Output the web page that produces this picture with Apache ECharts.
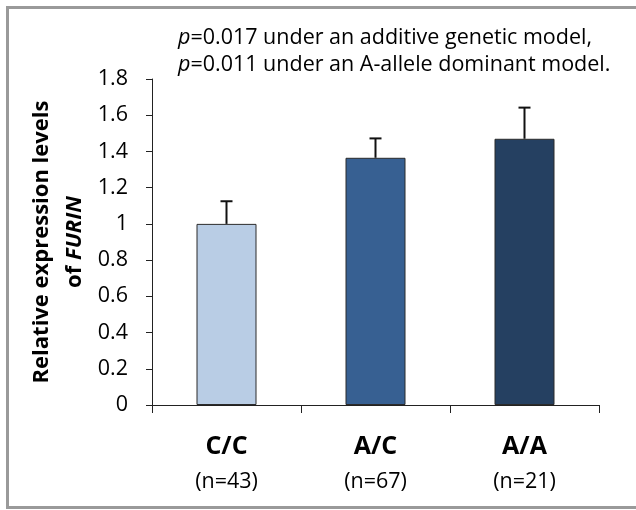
<!DOCTYPE html>
<html>
<head>
<meta charset="utf-8">
<script src="https://cdn.jsdelivr.net/npm/echarts@6/dist/echarts.min.js"></script>
<style>html,body{margin:0;padding:0;background:#fff}#c{width:636px;height:510px}</style>
</head>
<body>
<div id="c"></div>
<script>
var categories = ['C/C', 'A/C', 'A/A'];
var sampleSizes = ['(n=43)', '(n=67)', '(n=21)'];
var means = [1.0, 1.365, 1.47];
var upperErrors = [1.125, 1.472, 1.642];
var barColors = ['#B9CDE5', '#376092', '#254061'];
var yTicks = [0, 0.2, 0.4, 0.6, 0.8, 1, 1.2, 1.4, 1.6, 1.8];

var FONT = '"Open Sans", "Noto Sans", sans-serif';
var chart = echarts.init(document.getElementById('c'), null, {renderer: 'canvas'});

var option = {
  backgroundColor: '#ffffff',
  animation: false,
  graphic: [{
    type: 'rect',
    shape: {x: 7.5, y: 7.5, width: 660, height: 500},
    style: {fill: 'none', stroke: '#9a9a9a', lineWidth: 3},
    silent: true
  }],
  title: {
    text: '{i|p}=0.017 under an additive genetic model,\n{i|p}=0.011 under an A-allele dominant model.',
    left: 178,
    top: 24,
    padding: 0,
    textStyle: {
      fontFamily: FONT, fontSize: 21.5, fontWeight: 'normal', color: '#000', lineHeight: 27,
      rich: {i: {fontFamily: FONT, fontSize: 21.5, fontStyle: 'italic', color: '#000', lineHeight: 27}}
    }
  },
  grid: {left: 152, top: 79, right: 37, bottom: 105, containLabel: false, outerBoundsMode: 'none'},
  xAxis: {
    type: 'category',
    data: categories,
    axisLine: {lineStyle: {color: '#222', width: 1}},
    axisTick: {show: true, length: 8, lineStyle: {color: '#222'}},
    axisLabel: {
      margin: 24,
      formatter: function (v, i) { return '{b|' + v + '}\n{n|' + sampleSizes[i] + '}'; },
      rich: {
        b: {fontFamily: FONT, fontSize: 25, fontWeight: 'bold', color: '#000', lineHeight: 36},
        n: {fontFamily: FONT, fontSize: 21.5, color: '#000', lineHeight: 34}
      }
    }
  },
  yAxis: {
    type: 'value',
    min: 0, max: 1.8, interval: 0.2,
    name: 'Relative expression levels\nof {i|FURIN}',
    nameLocation: 'middle',
    nameGap: 61,
    nameMoveOverlap: false,
    nameRotate: 90,
    nameTextStyle: {
      fontFamily: FONT, fontSize: 22, fontWeight: 'bold', color: '#000', lineHeight: 33, align: 'center',
      rich: {i: {fontFamily: FONT, fontSize: 22, fontWeight: 'bold', fontStyle: 'italic', color: '#000', lineHeight: 33}}
    },
    axisLine: {show: true, lineStyle: {color: '#222', width: 1}},
    axisTick: {show: true, length: 6, lineStyle: {color: '#222'}},
    splitLine: {show: false},
    axisLabel: {
      margin: 24,
      fontFamily: FONT, fontSize: 21.5, color: '#000',
      formatter: function (v) {
        for (var k = 0; k < yTicks.length; k++) { if (Math.abs(yTicks[k] - v) < 1e-9) return String(yTicks[k]); }
        return '';
      }
    }
  },
  series: [{
    type: 'bar',
    barWidth: 60,
    data: means.map(function (m, i) {
      return {value: m, itemStyle: {color: barColors[i], borderColor: '#2b2b2b', borderWidth: 1}};
    }),
    z: 2
  }, {
    type: 'custom',
    z: 3,
    data: means.map(function (m, i) { return [i, m, upperErrors[i]]; }),
    renderItem: function (params, api) {
      var x = api.value(0);
      var base = api.coord([x, api.value(1)]);
      var top = api.coord([x, api.value(2)]);
      var cap = 6;
      return {
        type: 'group',
        children: [{
          type: 'line',
          shape: {x1: base[0], y1: base[1], x2: top[0], y2: top[1]},
          style: {stroke: '#111', lineWidth: 2}
        }, {
          type: 'line',
          shape: {x1: top[0] - cap, y1: top[1], x2: top[0] + cap, y2: top[1]},
          style: {stroke: '#111', lineWidth: 2}
        }]
      };
    }
  }]
};
chart.setOption(option);
</script>
</body>
</html>
